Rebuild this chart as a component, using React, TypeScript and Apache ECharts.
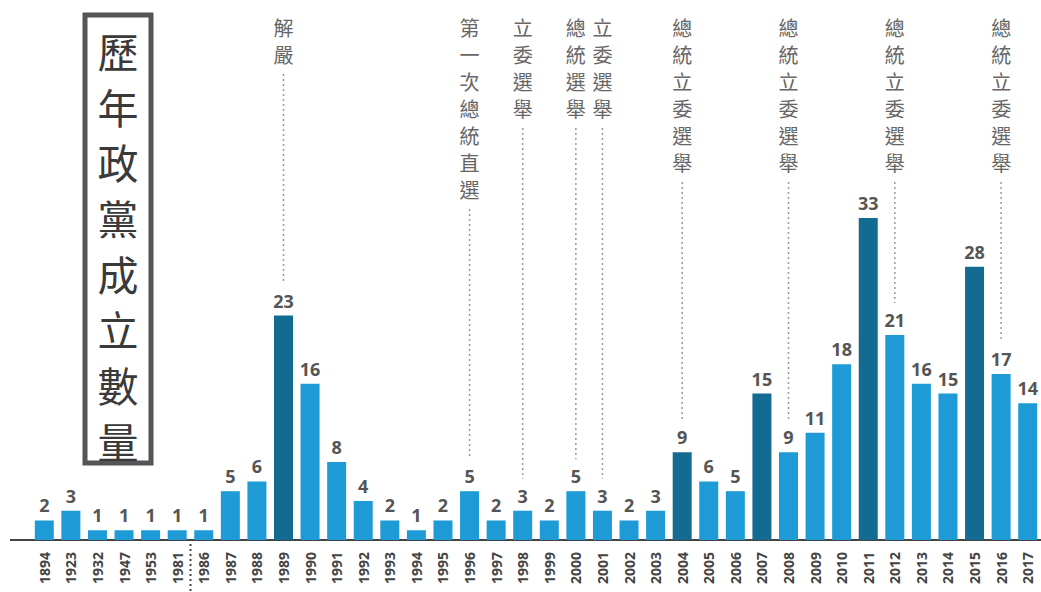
import React, { useEffect, useRef } from "react";
import * as echarts from "echarts";

const years = ["1894","1923","1932","1947","1953","1981","1986","1987","1988","1989","1990","1991","1992","1993","1994","1995","1996","1997","1998","1999","2000","2001","2002","2003","2004","2005","2006","2007","2008","2009","2010","2011","2012","2013","2014","2015","2016","2017"];
const counts = [2,3,1,1,1,1,1,5,6,23,16,8,4,2,1,2,5,2,3,2,5,3,2,3,9,6,5,15,9,11,18,33,21,16,15,28,17,14];
const highlightYears = ["1989","2004","2007","2011","2015"];
const annotationYears = ["1989","1996","1998","2000","2001","2004","2008","2012","2016"];
const annotationTexts = ["解嚴","第一次總統直選","立委選舉","總統選舉","立委選舉","總統立委選舉","總統立委選舉","總統立委選舉","總統立委選舉"];
const title = "歷年政黨成立數量";

const LIGHT = "#1e9bd6";
const DARK = "#146b92";
const CJK = "'Noto Sans CJK TC', 'Noto Sans CJK SC', sans-serif";

export default function App() {
  const ref = useRef<HTMLDivElement>(null);
  useEffect(() => {
    if (!ref.current) return;
    const chart = echarts.init(ref.current, null, { renderer: "svg" });
    const option: any = {
      animation: false,
      grid: { left: 31, right: 0, top: 52, bottom: 52, containLabel: false },
      xAxis: {
        type: "category",
        data: years,
        axisLine: { show: true, lineStyle: { color: "#444", width: 2 } },
        axisTick: { show: false },
        axisLabel: {
          rotate: 90,
          interval: 0,
          margin: 12,
          color: "#444",
          fontSize: 14,
          fontFamily: "'Open Sans', 'Noto Sans', sans-serif",
          fontWeight: "bold",
        },
      },
      yAxis: { type: "value", min: 0, max: 50, show: false, splitLine: { show: false } },
      series: [
        {
          type: "bar",
          barWidth: 19,
          data: counts.map((v, i) => ({
            value: v,
            itemStyle: { color: highlightYears.includes(years[i]) ? DARK : LIGHT },
          })),
          label: {
            show: true,
            position: "top",
            distance: 6,
            color: "#555",
            fontSize: 18,
            fontWeight: "bold",
            fontFamily: "'Open Sans', 'Noto Sans', sans-serif",
          },
        },
      ],
    };
    chart.setOption(option);

    const graphics: any[] = [];
    const axisY = chart.convertToPixel({ yAxisIndex: 0 }, 0) as number;
    graphics.push({
      type: "line",
      shape: { x1: 10, y1: axisY, x2: 31, y2: axisY },
      style: { stroke: "#444", lineWidth: 2 },
    });
    const x1981 = chart.convertToPixel({ xAxisIndex: 0 }, "1981") as number;
    const x1986 = chart.convertToPixel({ xAxisIndex: 0 }, "1986") as number;
    const sepX = (x1981 + x1986) / 2;
    graphics.push({
      type: "line",
      shape: { x1: sepX, y1: axisY + 4, x2: sepX, y2: 592 },
      style: { stroke: "#444", lineWidth: 2, lineDash: [2, 3] },
    });
    annotationYears.forEach((yr, k) => {
      const idx = years.indexOf(yr);
      const x = chart.convertToPixel({ xAxisIndex: 0 }, yr) as number;
      const barTop = chart.convertToPixel({ yAxisIndex: 0 }, counts[idx]) as number;
      const text = annotationTexts[k];
      const n = text.length;
      const textTop = 14;
      const lh = 27;
      graphics.push({
        type: "text",
        x,
        y: textTop,
        style: {
          text: text.split("").join("\n"),
          fill: "#666",
          fontSize: 20,
          lineHeight: lh,
          fontFamily: CJK,
          align: "center",
          verticalAlign: "top",
        },
      });
      graphics.push({
        type: "line",
        shape: { x1: x, y1: textTop + n * lh + 6, x2: x, y2: barTop - 32 },
        style: { stroke: "#999", lineWidth: 1.5, lineDash: [2, 3] },
      });
    });
    graphics.push({
      type: "rect",
      shape: { x: 85, y: 15, width: 66, height: 448 },
      style: { fill: "#fff", stroke: "#555", lineWidth: 5 },
    });
    graphics.push({
      type: "text",
      x: 118,
      y: 22,
      style: {
        text: title.split("").join("\n"),
        fill: "#3a3a3a",
        fontSize: 41,
        lineHeight: 55.7,
        fontFamily: CJK,
        align: "center",
        verticalAlign: "top",
      },
    });
    chart.setOption({ graphic: graphics });
    return () => chart.dispose();
  }, []);
  return (
    <div
      ref={ref}
      style={{ position: "fixed", left: 0, top: 0, width: 1041, height: 592, background: "#fff" }}
    />
  );
}
